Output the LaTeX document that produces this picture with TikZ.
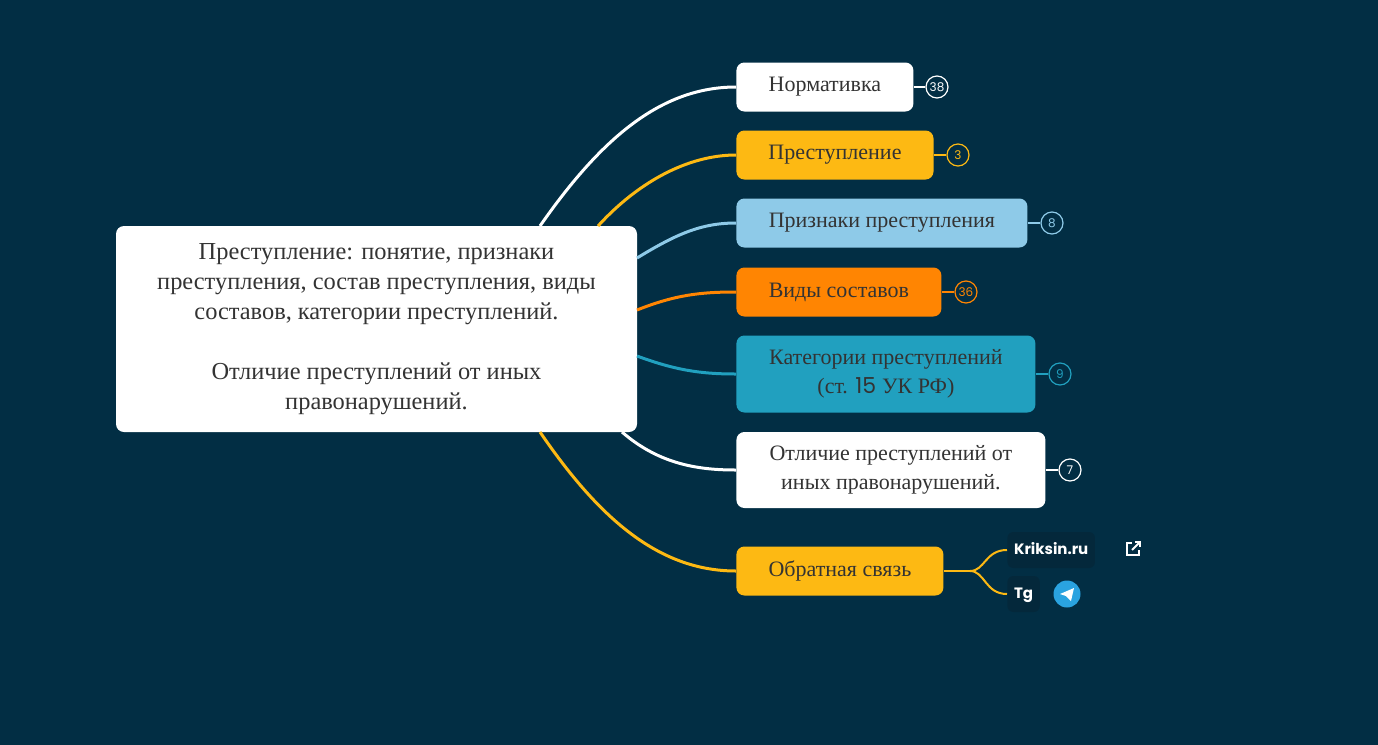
\documentclass[tikz,border=0pt]{standalone}
\usepackage{fontspec}
\setmainfont{Liberation Serif}
\newfontfamily\badgefont{Poppins}
\usetikzlibrary{calc}
\definecolor{bgblue}{HTML}{022E44}
\definecolor{linkbg}{HTML}{04283B}
\definecolor{mmyellow}{HTML}{FDB913}
\definecolor{mmlight}{HTML}{8ECAE8}
\definecolor{mmorange}{HTML}{FF8502}
\definecolor{mmteal}{HTML}{21A0BF}
\definecolor{mmtext}{HTML}{333333}
\definecolor{tgblue}{HTML}{2AA3E0}
\tikzset{
    mm-root/.style={
        fill=white, rounded corners=4pt, text=mmtext, align=center,
        minimum width=260.5pt, minimum height=103pt, font=\fontsize{12.2}{15}\selectfont
    },
    mm-child/.style={
        fill=#1, rounded corners=4pt, text=mmtext, align=center, anchor=west,
        minimum height=24.5pt, inner xsep=16pt, font=\fontsize{11}{14.5}\selectfont
    },
    mm-badge/.style={
        draw=#1, text=#1, circle, line width=0.6pt, minimum size=11pt, inner sep=0pt,
        font=\badgefont\fontsize{6}{6}\selectfont
    },
    mm-link/.style={
        draw=#1, line width=1.5pt
    },
    mm-web/.style={
        fill=linkbg, rounded corners=3pt, text=white, anchor=west,
        minimum height=18pt, text height=6pt, text depth=1.5pt, font=\badgefont\bfseries\fontsize{7.5}{8}\selectfont
    },
}
\begin{document}
\begin{tikzpicture}[x=0.5pt, y=-0.5pt]
    \fill[bgblue] (0,0) rectangle (1378,745);

    % ROOT
    \node[mm-root] (ROOT) at (376.5,329) {Преступление: понятие, признаки\\преступления, состав преступления, виды\\составов, категории преступлений.\\[15pt]Отличие преступлений от иных\\правонарушений.};

    % CHILDREN
    \node[mm-child=white,    minimum width=88.5pt]  (NORM) at (736,87)  {Нормативка};
    \node[mm-child=mmyellow, minimum width=98.5pt]  (PRES) at (736,155) {Преступление};
    \node[mm-child=mmlight,  minimum width=145.5pt] (PRIZ) at (736,223) {Признаки преступления};
    \node[mm-child=mmorange, minimum width=102.5pt] (VIDY) at (736,292) {Виды составов};
    \node[mm-child=mmteal,   minimum width=149.5pt, minimum height=38.5pt] (KAT) at (736,374) {Категории преступлений\\(ст. \badgefont 15 \rmfamily УК РФ)};
    \node[mm-child=white,    minimum width=154.5pt, minimum height=38pt] (OTL) at (736,470) {Отличие преступлений от\\иных правонарушений.};
    \node[mm-child=mmyellow, minimum width=103.5pt] (FEED) at (736,571) {Обратная связь};

    % CONNECTIONS
    \draw[mm-link=white]    (540,226) .. controls (600,140) and (660,87)  .. (NORM.west);
    \draw[mm-link=mmyellow] (598,226) .. controls (640,180) and (690,155) .. (PRES.west);
    \draw[mm-link=mmlight]  (637,258) .. controls (675,235) and (700,223) .. (PRIZ.west);
    \draw[mm-link=mmorange] (637,310) .. controls (675,295) and (700,292) .. (VIDY.west);
    \draw[mm-link=mmteal]   (637,356) .. controls (675,370) and (700,374) .. (KAT.west);
    \draw[mm-link=white]    (622,432) .. controls (660,465) and (700,470) .. (OTL.west);
    \draw[mm-link=mmyellow] (540,432) .. controls (600,520) and (660,571) .. (FEED.west);

    % BADGES
    \node[mm-badge=white]    (B1) at (937,87)   {38};
    \node[mm-badge=mmyellow] (B2) at (958,155)  {3};
    \node[mm-badge=mmlight]  (B3) at (1052,223) {8};
    \node[mm-badge=mmorange] (B4) at (966,292)  {36};
    \node[mm-badge=mmteal]   (B5) at (1060,374) {9};
    \node[mm-badge=white]    (B6) at (1070,470) {7};
    \draw[white, line width=1pt]    (NORM.east) -- (B1);
    \draw[mmyellow, line width=1pt] (PRES.east) -- (B2);
    \draw[mmlight, line width=1pt]  (PRIZ.east) -- (B3);
    \draw[mmorange, line width=1pt] (VIDY.east) -- (B4);
    \draw[mmteal, line width=1pt]   (KAT.east)  -- (B5);
    \draw[white, line width=1pt]    (OTL.east)  -- (B6);

    % LINKS
    \node[mm-web] (KRIK) at (1007,550) {Kriksin.ru};
    \node[mm-web] (TG)   at (1007,594) {Tg};
    \coordinate   (FORK) at (970,571);
    \draw[mmyellow, line width=1pt] (FEED.east) -- (FORK);
    \draw[mmyellow, line width=1pt] (FORK) .. controls (985,571) and (985,550) .. (KRIK.west);
    \draw[mmyellow, line width=1pt] (FORK) .. controls (985,571) and (985,594) .. (TG.west);

    % ICONS
    \node[circle, fill=tgblue, minimum size=13.5pt, inner sep=0pt] (TGICON) at (1067,594) {};
    \fill[white] ($(TGICON)+(-7,0)$) -- ($(TGICON)+(7,-6)$) -- ($(TGICON)+(4,7)$) -- ($(TGICON)+(-1,2)$) -- cycle;
    \coordinate (EXT) at (1133,549);
    \draw[white, line width=1pt] ($(EXT)+(-1,-6)$) -- ($(EXT)+(-6,-6)$) -- ($(EXT)+(-6,6)$) -- ($(EXT)+(6,6)$) -- ($(EXT)+(6,1)$);
    \draw[white, line width=1pt] ($(EXT)+(-1,1)$) -- ($(EXT)+(7,-7)$);
    \draw[white, line width=1pt] ($(EXT)+(2,-7)$) -- ($(EXT)+(7,-7)$) -- ($(EXT)+(7,-2)$);
\end{tikzpicture}
\end{document}
